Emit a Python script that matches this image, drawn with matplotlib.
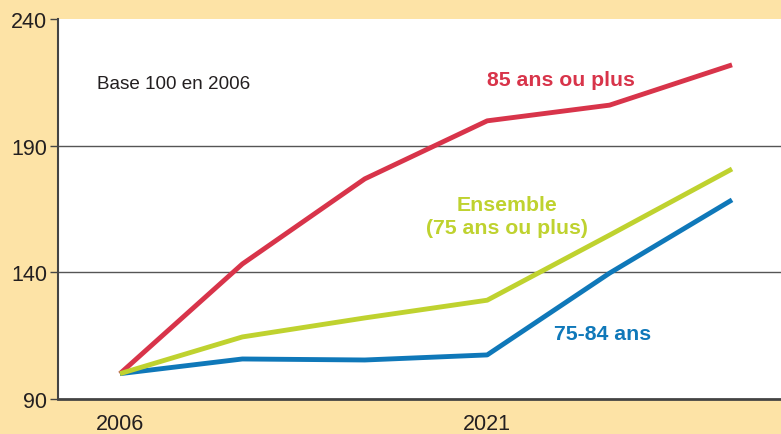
import matplotlib
matplotlib.use("Agg")
from matplotlib import pyplot as plt

plt.rcParams['font.family'] = ['Liberation Sans', 'DejaVu Sans']

# Data (index, base 100 in 2006)
years = [2006, 2011, 2016, 2021, 2026, 2031]
plus85 = [100, 143.3, 176.9, 199.8, 206, 221.9]
ensemble = [100, 114.5, 122, 129, 154.7, 180.8]
age75_84 = [100, 105.8, 105.4, 107.4, 139.7, 168.6]

yticks = [90, 140, 190, 240]
xticks = [2006, 2021]

bg = '#fde3a6'
red = '#d8344a'
green = '#bfd22f'
blue = '#0f78b9'

fig = plt.figure(figsize=(7.81, 4.35), dpi=100)
fig.patch.set_facecolor(bg)
ax = fig.add_axes([58 / 781, 35 / 435, 723 / 781, 380 / 435])
ax.set_facecolor('white')

ax.plot(years, plus85, color=red, lw=3.5, solid_capstyle='butt', zorder=3)
ax.plot(years, ensemble, color=green, lw=3.5, solid_capstyle='butt', zorder=4)
ax.plot(years, age75_84, color=blue, lw=3.5, solid_capstyle='butt', zorder=3)

ax.set_xlim(2003.47, 2033.0)
ax.set_ylim(90, 240)
ax.set_yticks(yticks)
ax.set_xticks(xticks)
ax.tick_params(axis='y', length=6, width=1, color='#444444', labelsize=15.5, pad=2)
ax.tick_params(axis='x', length=0, labelsize=15.5, pad=10)
for lab in ax.get_xticklabels() + ax.get_yticklabels():
    lab.set_color('#231f20')

# gridlines
for y in [140, 190]:
    ax.axhline(y, color='#555555', lw=1, zorder=1)

for s in ['top', 'right']:
    ax.spines[s].set_visible(False)
ax.spines['left'].set_color('#444444')
ax.spines['bottom'].set_color('#444444')
ax.spines['left'].set_linewidth(1.5)
ax.spines['bottom'].set_linewidth(2)

ax.text(2005.06, 214.4, 'Base 100 en 2006', fontsize=13.6, color='#231f20', va='center')
ax.text(2024.0, 216.3, '85 ans ou plus', fontsize=15.3, fontweight='bold', color=red,
        ha='center', va='center')
ax.text(2021.8, 162.2, 'Ensemble\n(75 ans ou plus)', fontsize=15.3, fontweight='bold',
        color=green, ha='center', va='center', linespacing=1.3)
ax.text(2025.7, 115.7, '75-84 ans', fontsize=15.3, fontweight='bold', color=blue,
        ha='center', va='center')

fig.savefig('out.png', dpi=100, facecolor=bg)
